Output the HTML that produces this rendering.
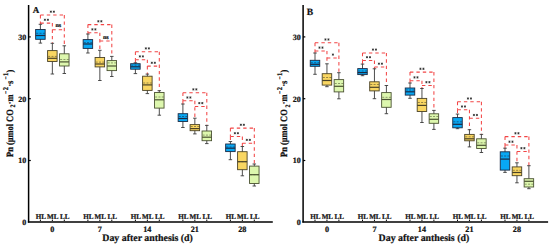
<!DOCTYPE html>
<html><head><meta charset="utf-8"><style>
html,body{margin:0;padding:0;background:#fff;width:550px;height:248px;overflow:hidden}
svg{display:block;text-rendering:geometricPrecision}
text{font-family:"Liberation Serif",serif;font-weight:bold;fill:#111;stroke:#111;stroke-width:0.22px}
</style></head><body>
<svg width="550" height="248" viewBox="0 0 550 248">
<rect width="550" height="248" fill="#fff"/>
<line x1="28.6" y1="5" x2="28.6" y2="222.6" stroke="#000" stroke-width="1.5"/>
<line x1="27.85" y1="222" x2="272.8" y2="222" stroke="#000" stroke-width="1.6"/>
<line x1="28.6" y1="36.9" x2="30.8" y2="36.9" stroke="#000" stroke-width="1.2"/>
<text x="26.3" y="39.7" font-size="8" text-anchor="end">30</text>
<line x1="28.6" y1="98.7" x2="30.8" y2="98.7" stroke="#000" stroke-width="1.2"/>
<text x="26.3" y="101.5" font-size="8" text-anchor="end">20</text>
<line x1="28.6" y1="160.5" x2="30.8" y2="160.5" stroke="#000" stroke-width="1.2"/>
<text x="26.3" y="163.3" font-size="8" text-anchor="end">10</text>
<text x="26.3" y="225.1" font-size="8" text-anchor="end">0</text>
<text x="32.8" y="12.9" font-size="9">A</text>
<text transform="translate(12.6,156.9) rotate(-90) scale(1,1.15)" stroke="none"><tspan x="0" y="0" font-size="8.4">Pn (μmol CO</tspan><tspan x="49.5" y="2.3" font-size="6">2</tspan><tspan x="52.6" y="0" font-size="8.4">·</tspan><tspan x="55.5" y="0" font-size="8.4">m</tspan><tspan x="63" y="-4.1" font-size="5.8">−</tspan><tspan x="66.7" y="-4.1" font-size="6.3">2</tspan><tspan x="70.5" y="0" font-size="8.4">·</tspan><tspan x="72.8" y="0" font-size="8.4">s</tspan><tspan x="77.4" y="-4.1" font-size="5.8">−</tspan><tspan x="80.9" y="-4.1" font-size="6.3">1</tspan><tspan x="84.5" y="0" font-size="8.4">)</tspan></text>
<text x="147.6" y="241.1" font-size="9.9" text-anchor="middle">Day after anthesis (d)</text>
<line x1="40.4" y1="221" x2="40.4" y2="219.6" stroke="#000" stroke-width="1"/>
<text x="40.8" y="218.9" font-size="7.1" text-anchor="middle">HL</text>
<line x1="52.35" y1="221" x2="52.35" y2="219.6" stroke="#000" stroke-width="1"/>
<text x="52.75" y="218.9" font-size="7.1" text-anchor="middle">ML</text>
<line x1="64.3" y1="221" x2="64.3" y2="219.6" stroke="#000" stroke-width="1"/>
<text x="64.7" y="218.9" font-size="7.1" text-anchor="middle">LL</text>
<text x="52.35" y="231.8" font-size="8.2" text-anchor="middle">0</text>
<path d="M40.4,15 H64.3" fill="none" stroke="#f24646" stroke-width="1.05" stroke-dasharray="3.4 3"/>
<path d="M40.4,15 V23.1" fill="none" stroke="#f24646" stroke-width="1.05" stroke-dasharray="3.4 3"/>
<path d="M64.3,15 V45.8" fill="none" stroke="#f24646" stroke-width="1.05" stroke-dasharray="3.4 3"/>
<path d="M40.4,23.1 H52.35" fill="none" stroke="#f24646" stroke-width="1.05" stroke-dasharray="3.4 3"/>
<path d="M40.4,23.1 V24.3" fill="none" stroke="#f24646" stroke-width="1.05" stroke-dasharray="3.4 3"/>
<path d="M52.35,23.1 V43.3" fill="none" stroke="#f24646" stroke-width="1.05" stroke-dasharray="3.4 3"/>
<path d="M52.35,29.7 H64.3" fill="none" stroke="#f24646" stroke-width="1.05" stroke-dasharray="3.4 3"/>
<path d="M50.85,10.6V12.8M49.85,11.15L51.85,12.25M49.85,12.25L51.85,11.15" stroke="#2a2a2a" stroke-width="0.75" fill="none"/>
<path d="M53.85,10.6V12.8M52.85,11.15L54.85,12.25M52.85,12.25L54.85,11.15" stroke="#2a2a2a" stroke-width="0.75" fill="none"/>
<path d="M44.88,18.7V20.9M43.88,19.25L45.88,20.35M43.88,20.35L45.88,19.25" stroke="#2a2a2a" stroke-width="0.75" fill="none"/>
<path d="M47.88,18.7V20.9M46.88,19.25L48.88,20.35M46.88,20.35L48.88,19.25" stroke="#2a2a2a" stroke-width="0.75" fill="none"/>
<text x="58.32" y="27.4" font-size="6" font-weight="bold" fill="#666" stroke="none" text-anchor="middle">ns</text>
<line x1="40.4" y1="24.3" x2="40.4" y2="43.1" stroke="#3a3a3a" stroke-width="0.9"/>
<line x1="38.65" y1="24.3" x2="42.15" y2="24.3" stroke="#3a3a3a" stroke-width="0.9"/>
<line x1="38.65" y1="43.1" x2="42.15" y2="43.1" stroke="#3a3a3a" stroke-width="0.9"/>
<rect x="35.65" y="29.5" width="9.5" height="9.8" fill="#08a8f4" stroke="#1a2a44" stroke-width="0.9"/>
<line x1="35.65" y1="33.3" x2="45.15" y2="33.3" stroke="#1a2a44" stroke-width="0.8" stroke-opacity="0.7" stroke-dasharray="2 1.3" stroke-dashoffset="-0.6"/>
<line x1="35.65" y1="35.5" x2="45.15" y2="35.5" stroke="#1a2a44" stroke-width="1.2"/>
<line x1="52.35" y1="43.3" x2="52.35" y2="74" stroke="#3a3a3a" stroke-width="0.9"/>
<line x1="50.6" y1="43.3" x2="54.1" y2="43.3" stroke="#3a3a3a" stroke-width="0.9"/>
<line x1="50.6" y1="74" x2="54.1" y2="74" stroke="#3a3a3a" stroke-width="0.9"/>
<rect x="47.6" y="50.6" width="9.5" height="10.9" fill="#f9d662" stroke="#4a4226" stroke-width="0.9"/>
<line x1="47.6" y1="56.4" x2="57.1" y2="56.4" stroke="#4a4226" stroke-width="0.8" stroke-opacity="0.7" stroke-dasharray="2 1.3" stroke-dashoffset="-0.6"/>
<line x1="47.6" y1="58.3" x2="57.1" y2="58.3" stroke="#4a4226" stroke-width="1.2"/>
<line x1="64.3" y1="45.8" x2="64.3" y2="73.5" stroke="#3a3a3a" stroke-width="0.9"/>
<line x1="62.55" y1="45.8" x2="66.05" y2="45.8" stroke="#3a3a3a" stroke-width="0.9"/>
<line x1="62.55" y1="73.5" x2="66.05" y2="73.5" stroke="#3a3a3a" stroke-width="0.9"/>
<rect x="59.55" y="53.8" width="9.5" height="12.2" fill="#ddf7ae" stroke="#4a5232" stroke-width="0.9"/>
<line x1="59.55" y1="59.5" x2="69.05" y2="59.5" stroke="#4a5232" stroke-width="0.8" stroke-opacity="0.7" stroke-dasharray="2 1.3" stroke-dashoffset="-0.6"/>
<line x1="59.55" y1="61.9" x2="69.05" y2="61.9" stroke="#4a5232" stroke-width="1.2"/>
<line x1="87.9" y1="221" x2="87.9" y2="219.6" stroke="#000" stroke-width="1"/>
<text x="88.3" y="218.9" font-size="7.1" text-anchor="middle">HL</text>
<line x1="99.85" y1="221" x2="99.85" y2="219.6" stroke="#000" stroke-width="1"/>
<text x="100.25" y="218.9" font-size="7.1" text-anchor="middle">ML</text>
<line x1="111.8" y1="221" x2="111.8" y2="219.6" stroke="#000" stroke-width="1"/>
<text x="112.2" y="218.9" font-size="7.1" text-anchor="middle">LL</text>
<text x="99.85" y="231.8" font-size="8.2" text-anchor="middle">7</text>
<path d="M87.9,24.6 H111.8" fill="none" stroke="#f24646" stroke-width="1.05" stroke-dasharray="3.4 3"/>
<path d="M87.9,24.6 V32.7" fill="none" stroke="#f24646" stroke-width="1.05" stroke-dasharray="3.4 3"/>
<path d="M111.8,24.6 V56.4" fill="none" stroke="#f24646" stroke-width="1.05" stroke-dasharray="3.4 3"/>
<path d="M87.9,32.7 H99.85" fill="none" stroke="#f24646" stroke-width="1.05" stroke-dasharray="3.4 3"/>
<path d="M87.9,32.7 V34" fill="none" stroke="#f24646" stroke-width="1.05" stroke-dasharray="3.4 3"/>
<path d="M99.85,32.7 V50.3" fill="none" stroke="#f24646" stroke-width="1.05" stroke-dasharray="3.4 3"/>
<path d="M99.85,41 H111.8" fill="none" stroke="#f24646" stroke-width="1.05" stroke-dasharray="3.4 3"/>
<path d="M98.35,20.2V22.4M97.35,20.75L99.35,21.85M97.35,21.85L99.35,20.75" stroke="#2a2a2a" stroke-width="0.75" fill="none"/>
<path d="M101.35,20.2V22.4M100.35,20.75L102.35,21.85M100.35,21.85L102.35,20.75" stroke="#2a2a2a" stroke-width="0.75" fill="none"/>
<path d="M92.38,28.3V30.5M91.38,28.85L93.38,29.95M91.38,29.95L93.38,28.85" stroke="#2a2a2a" stroke-width="0.75" fill="none"/>
<path d="M95.38,28.3V30.5M94.38,28.85L96.38,29.95M94.38,29.95L96.38,28.85" stroke="#2a2a2a" stroke-width="0.75" fill="none"/>
<text x="105.83" y="38.7" font-size="6" font-weight="bold" fill="#666" stroke="none" text-anchor="middle">ns</text>
<line x1="87.9" y1="34" x2="87.9" y2="53" stroke="#3a3a3a" stroke-width="0.9"/>
<line x1="86.15" y1="34" x2="89.65" y2="34" stroke="#3a3a3a" stroke-width="0.9"/>
<line x1="86.15" y1="53" x2="89.65" y2="53" stroke="#3a3a3a" stroke-width="0.9"/>
<rect x="83.15" y="39.6" width="9.5" height="8.8" fill="#08a8f4" stroke="#1a2a44" stroke-width="0.9"/>
<line x1="83.15" y1="42.6" x2="92.65" y2="42.6" stroke="#1a2a44" stroke-width="0.8" stroke-opacity="0.7" stroke-dasharray="2 1.3" stroke-dashoffset="-0.6"/>
<line x1="83.15" y1="44" x2="92.65" y2="44" stroke="#1a2a44" stroke-width="1.2"/>
<line x1="99.85" y1="50.3" x2="99.85" y2="80.5" stroke="#3a3a3a" stroke-width="0.9"/>
<line x1="98.1" y1="50.3" x2="101.6" y2="50.3" stroke="#3a3a3a" stroke-width="0.9"/>
<line x1="98.1" y1="80.5" x2="101.6" y2="80.5" stroke="#3a3a3a" stroke-width="0.9"/>
<rect x="95.1" y="57.5" width="9.5" height="9.4" fill="#f9d662" stroke="#4a4226" stroke-width="0.9"/>
<line x1="95.1" y1="62.1" x2="104.6" y2="62.1" stroke="#4a4226" stroke-width="0.8" stroke-opacity="0.7" stroke-dasharray="2 1.3" stroke-dashoffset="-0.6"/>
<line x1="95.1" y1="64" x2="104.6" y2="64" stroke="#4a4226" stroke-width="1.2"/>
<line x1="111.8" y1="56.4" x2="111.8" y2="76.5" stroke="#3a3a3a" stroke-width="0.9"/>
<line x1="110.05" y1="56.4" x2="113.55" y2="56.4" stroke="#3a3a3a" stroke-width="0.9"/>
<line x1="110.05" y1="76.5" x2="113.55" y2="76.5" stroke="#3a3a3a" stroke-width="0.9"/>
<rect x="107.05" y="60.6" width="9.5" height="10" fill="#ddf7ae" stroke="#4a5232" stroke-width="0.9"/>
<line x1="107.05" y1="62.9" x2="116.55" y2="62.9" stroke="#4a5232" stroke-width="0.8" stroke-opacity="0.7" stroke-dasharray="2 1.3" stroke-dashoffset="-0.6"/>
<line x1="107.05" y1="66" x2="116.55" y2="66" stroke="#4a5232" stroke-width="1.2"/>
<line x1="135.4" y1="221" x2="135.4" y2="219.6" stroke="#000" stroke-width="1"/>
<text x="135.8" y="218.9" font-size="7.1" text-anchor="middle">HL</text>
<line x1="147.35" y1="221" x2="147.35" y2="219.6" stroke="#000" stroke-width="1"/>
<text x="147.75" y="218.9" font-size="7.1" text-anchor="middle">ML</text>
<line x1="159.3" y1="221" x2="159.3" y2="219.6" stroke="#000" stroke-width="1"/>
<text x="159.7" y="218.9" font-size="7.1" text-anchor="middle">LL</text>
<text x="147.35" y="231.8" font-size="8.2" text-anchor="middle">14</text>
<path d="M135.4,51.7 H159.3" fill="none" stroke="#f24646" stroke-width="1.05" stroke-dasharray="3.4 3"/>
<path d="M135.4,51.7 V59.7" fill="none" stroke="#f24646" stroke-width="1.05" stroke-dasharray="3.4 3"/>
<path d="M159.3,51.7 V90.7" fill="none" stroke="#f24646" stroke-width="1.05" stroke-dasharray="3.4 3"/>
<path d="M135.4,59.7 H147.35" fill="none" stroke="#f24646" stroke-width="1.05" stroke-dasharray="3.4 3"/>
<path d="M135.4,59.7 V62.8" fill="none" stroke="#f24646" stroke-width="1.05" stroke-dasharray="3.4 3"/>
<path d="M147.35,59.7 V74.1" fill="none" stroke="#f24646" stroke-width="1.05" stroke-dasharray="3.4 3"/>
<path d="M147.35,66.1 H159.3" fill="none" stroke="#f24646" stroke-width="1.05" stroke-dasharray="3.4 3"/>
<path d="M145.85,47.3V49.5M144.85,47.85L146.85,48.95M144.85,48.95L146.85,47.85" stroke="#2a2a2a" stroke-width="0.75" fill="none"/>
<path d="M148.85,47.3V49.5M147.85,47.85L149.85,48.95M147.85,48.95L149.85,47.85" stroke="#2a2a2a" stroke-width="0.75" fill="none"/>
<path d="M139.88,55.3V57.5M138.88,55.85L140.88,56.95M138.88,56.95L140.88,55.85" stroke="#2a2a2a" stroke-width="0.75" fill="none"/>
<path d="M142.88,55.3V57.5M141.88,55.85L143.88,56.95M141.88,56.95L143.88,55.85" stroke="#2a2a2a" stroke-width="0.75" fill="none"/>
<path d="M151.82,61.7V63.9M150.82,62.25L152.82,63.35M150.82,63.35L152.82,62.25" stroke="#2a2a2a" stroke-width="0.75" fill="none"/>
<path d="M154.82,61.7V63.9M153.82,62.25L155.82,63.35M153.82,63.35L155.82,62.25" stroke="#2a2a2a" stroke-width="0.75" fill="none"/>
<line x1="135.4" y1="62.8" x2="135.4" y2="73.6" stroke="#3a3a3a" stroke-width="0.9"/>
<line x1="133.65" y1="62.8" x2="137.15" y2="62.8" stroke="#3a3a3a" stroke-width="0.9"/>
<line x1="133.65" y1="73.6" x2="137.15" y2="73.6" stroke="#3a3a3a" stroke-width="0.9"/>
<rect x="130.65" y="63.7" width="9.5" height="5.5" fill="#08a8f4" stroke="#1a2a44" stroke-width="0.9"/>
<line x1="130.65" y1="65.2" x2="140.15" y2="65.2" stroke="#1a2a44" stroke-width="0.8" stroke-opacity="0.7" stroke-dasharray="2 1.3" stroke-dashoffset="-0.6"/>
<line x1="130.65" y1="66.8" x2="140.15" y2="66.8" stroke="#1a2a44" stroke-width="1.2"/>
<line x1="147.35" y1="74.1" x2="147.35" y2="93.6" stroke="#3a3a3a" stroke-width="0.9"/>
<line x1="145.6" y1="74.1" x2="149.1" y2="74.1" stroke="#3a3a3a" stroke-width="0.9"/>
<line x1="145.6" y1="93.6" x2="149.1" y2="93.6" stroke="#3a3a3a" stroke-width="0.9"/>
<rect x="142.6" y="76.2" width="9.5" height="14.2" fill="#f9d662" stroke="#4a4226" stroke-width="0.9"/>
<line x1="142.6" y1="83" x2="152.1" y2="83" stroke="#4a4226" stroke-width="0.8" stroke-opacity="0.7" stroke-dasharray="2 1.3" stroke-dashoffset="-0.6"/>
<line x1="142.6" y1="84.9" x2="152.1" y2="84.9" stroke="#4a4226" stroke-width="1.2"/>
<line x1="159.3" y1="90.7" x2="159.3" y2="115.2" stroke="#3a3a3a" stroke-width="0.9"/>
<line x1="157.55" y1="90.7" x2="161.05" y2="90.7" stroke="#3a3a3a" stroke-width="0.9"/>
<line x1="157.55" y1="115.2" x2="161.05" y2="115.2" stroke="#3a3a3a" stroke-width="0.9"/>
<rect x="154.55" y="92.5" width="9.5" height="15.6" fill="#ddf7ae" stroke="#4a5232" stroke-width="0.9"/>
<line x1="154.55" y1="97" x2="164.05" y2="97" stroke="#4a5232" stroke-width="0.8" stroke-opacity="0.7" stroke-dasharray="2 1.3" stroke-dashoffset="-0.6"/>
<line x1="154.55" y1="99.8" x2="164.05" y2="99.8" stroke="#4a5232" stroke-width="1.2"/>
<line x1="182.9" y1="221" x2="182.9" y2="219.6" stroke="#000" stroke-width="1"/>
<text x="183.3" y="218.9" font-size="7.1" text-anchor="middle">HL</text>
<line x1="194.85" y1="221" x2="194.85" y2="219.6" stroke="#000" stroke-width="1"/>
<text x="195.25" y="218.9" font-size="7.1" text-anchor="middle">ML</text>
<line x1="206.8" y1="221" x2="206.8" y2="219.6" stroke="#000" stroke-width="1"/>
<text x="207.2" y="218.9" font-size="7.1" text-anchor="middle">LL</text>
<text x="194.85" y="231.8" font-size="8.2" text-anchor="middle">21</text>
<path d="M182.9,92.7 H206.8" fill="none" stroke="#f24646" stroke-width="1.05" stroke-dasharray="3.4 3"/>
<path d="M182.9,92.7 V100.8" fill="none" stroke="#f24646" stroke-width="1.05" stroke-dasharray="3.4 3"/>
<path d="M206.8,92.7 V125.4" fill="none" stroke="#f24646" stroke-width="1.05" stroke-dasharray="3.4 3"/>
<path d="M182.9,100.8 H194.85" fill="none" stroke="#f24646" stroke-width="1.05" stroke-dasharray="3.4 3"/>
<path d="M182.9,100.8 V104" fill="none" stroke="#f24646" stroke-width="1.05" stroke-dasharray="3.4 3"/>
<path d="M194.85,100.8 V118.2" fill="none" stroke="#f24646" stroke-width="1.05" stroke-dasharray="3.4 3"/>
<path d="M194.85,106.4 H206.8" fill="none" stroke="#f24646" stroke-width="1.05" stroke-dasharray="3.4 3"/>
<path d="M193.35,88.3V90.5M192.35,88.85L194.35,89.95M192.35,89.95L194.35,88.85" stroke="#2a2a2a" stroke-width="0.75" fill="none"/>
<path d="M196.35,88.3V90.5M195.35,88.85L197.35,89.95M195.35,89.95L197.35,88.85" stroke="#2a2a2a" stroke-width="0.75" fill="none"/>
<path d="M187.38,96.4V98.6M186.38,96.95L188.38,98.05M186.38,98.05L188.38,96.95" stroke="#2a2a2a" stroke-width="0.75" fill="none"/>
<path d="M190.38,96.4V98.6M189.38,96.95L191.38,98.05M189.38,98.05L191.38,96.95" stroke="#2a2a2a" stroke-width="0.75" fill="none"/>
<path d="M199.32,102V104.2M198.32,102.55L200.32,103.65M198.32,103.65L200.32,102.55" stroke="#2a2a2a" stroke-width="0.75" fill="none"/>
<path d="M202.32,102V104.2M201.32,102.55L203.32,103.65M201.32,103.65L203.32,102.55" stroke="#2a2a2a" stroke-width="0.75" fill="none"/>
<line x1="182.9" y1="104" x2="182.9" y2="127.5" stroke="#3a3a3a" stroke-width="0.9"/>
<line x1="181.15" y1="104" x2="184.65" y2="104" stroke="#3a3a3a" stroke-width="0.9"/>
<line x1="181.15" y1="127.5" x2="184.65" y2="127.5" stroke="#3a3a3a" stroke-width="0.9"/>
<rect x="178.15" y="113.7" width="9.5" height="7.8" fill="#08a8f4" stroke="#1a2a44" stroke-width="0.9"/>
<line x1="178.15" y1="116.5" x2="187.65" y2="116.5" stroke="#1a2a44" stroke-width="0.8" stroke-opacity="0.7" stroke-dasharray="2 1.3" stroke-dashoffset="-0.6"/>
<line x1="178.15" y1="118.5" x2="187.65" y2="118.5" stroke="#1a2a44" stroke-width="1.2"/>
<line x1="194.85" y1="118.2" x2="194.85" y2="133.9" stroke="#3a3a3a" stroke-width="0.9"/>
<line x1="193.1" y1="118.2" x2="196.6" y2="118.2" stroke="#3a3a3a" stroke-width="0.9"/>
<line x1="193.1" y1="133.9" x2="196.6" y2="133.9" stroke="#3a3a3a" stroke-width="0.9"/>
<rect x="190.1" y="124.6" width="9.5" height="6.1" fill="#f9d662" stroke="#4a4226" stroke-width="0.9"/>
<line x1="190.1" y1="126.5" x2="199.6" y2="126.5" stroke="#4a4226" stroke-width="0.8" stroke-opacity="0.7" stroke-dasharray="2 1.3" stroke-dashoffset="-0.6"/>
<line x1="190.1" y1="128.6" x2="199.6" y2="128.6" stroke="#4a4226" stroke-width="1.2"/>
<line x1="206.8" y1="125.4" x2="206.8" y2="143.6" stroke="#3a3a3a" stroke-width="0.9"/>
<line x1="205.05" y1="125.4" x2="208.55" y2="125.4" stroke="#3a3a3a" stroke-width="0.9"/>
<line x1="205.05" y1="143.6" x2="208.55" y2="143.6" stroke="#3a3a3a" stroke-width="0.9"/>
<rect x="202.05" y="131" width="9.5" height="9.7" fill="#ddf7ae" stroke="#4a5232" stroke-width="0.9"/>
<line x1="202.05" y1="135.1" x2="211.55" y2="135.1" stroke="#4a5232" stroke-width="0.8" stroke-opacity="0.7" stroke-dasharray="2 1.3" stroke-dashoffset="-0.6"/>
<line x1="202.05" y1="137.2" x2="211.55" y2="137.2" stroke="#4a5232" stroke-width="1.2"/>
<line x1="230.4" y1="221" x2="230.4" y2="219.6" stroke="#000" stroke-width="1"/>
<text x="230.8" y="218.9" font-size="7.1" text-anchor="middle">HL</text>
<line x1="242.35" y1="221" x2="242.35" y2="219.6" stroke="#000" stroke-width="1"/>
<text x="242.75" y="218.9" font-size="7.1" text-anchor="middle">ML</text>
<line x1="254.3" y1="221" x2="254.3" y2="219.6" stroke="#000" stroke-width="1"/>
<text x="254.7" y="218.9" font-size="7.1" text-anchor="middle">LL</text>
<text x="242.35" y="231.8" font-size="8.2" text-anchor="middle">28</text>
<path d="M230.4,128.1 H254.3" fill="none" stroke="#f24646" stroke-width="1.05" stroke-dasharray="3.4 3"/>
<path d="M230.4,128.1 V136.5" fill="none" stroke="#f24646" stroke-width="1.05" stroke-dasharray="3.4 3"/>
<path d="M254.3,128.1 V164" fill="none" stroke="#f24646" stroke-width="1.05" stroke-dasharray="3.4 3"/>
<path d="M230.4,136.5 H242.35" fill="none" stroke="#f24646" stroke-width="1.05" stroke-dasharray="3.4 3"/>
<path d="M230.4,136.5 V141.5" fill="none" stroke="#f24646" stroke-width="1.05" stroke-dasharray="3.4 3"/>
<path d="M242.35,136.5 V146.5" fill="none" stroke="#f24646" stroke-width="1.05" stroke-dasharray="3.4 3"/>
<path d="M242.35,143.2 H254.3" fill="none" stroke="#f24646" stroke-width="1.05" stroke-dasharray="3.4 3"/>
<path d="M240.85,123.7V125.9M239.85,124.25L241.85,125.35M239.85,125.35L241.85,124.25" stroke="#2a2a2a" stroke-width="0.75" fill="none"/>
<path d="M243.85,123.7V125.9M242.85,124.25L244.85,125.35M242.85,125.35L244.85,124.25" stroke="#2a2a2a" stroke-width="0.75" fill="none"/>
<path d="M234.88,132.1V134.3M233.88,132.65L235.88,133.75M233.88,133.75L235.88,132.65" stroke="#2a2a2a" stroke-width="0.75" fill="none"/>
<path d="M237.88,132.1V134.3M236.88,132.65L238.88,133.75M236.88,133.75L238.88,132.65" stroke="#2a2a2a" stroke-width="0.75" fill="none"/>
<path d="M246.82,138.8V141M245.82,139.35L247.82,140.45M245.82,140.45L247.82,139.35" stroke="#2a2a2a" stroke-width="0.75" fill="none"/>
<path d="M249.82,138.8V141M248.82,139.35L250.82,140.45M248.82,140.45L250.82,139.35" stroke="#2a2a2a" stroke-width="0.75" fill="none"/>
<line x1="230.4" y1="141.5" x2="230.4" y2="159.7" stroke="#3a3a3a" stroke-width="0.9"/>
<line x1="228.65" y1="141.5" x2="232.15" y2="141.5" stroke="#3a3a3a" stroke-width="0.9"/>
<line x1="228.65" y1="159.7" x2="232.15" y2="159.7" stroke="#3a3a3a" stroke-width="0.9"/>
<rect x="225.65" y="144" width="9.5" height="7.6" fill="#08a8f4" stroke="#1a2a44" stroke-width="0.9"/>
<line x1="225.65" y1="147" x2="235.15" y2="147" stroke="#1a2a44" stroke-width="0.8" stroke-opacity="0.7" stroke-dasharray="2 1.3" stroke-dashoffset="-0.6"/>
<line x1="225.65" y1="148.2" x2="235.15" y2="148.2" stroke="#1a2a44" stroke-width="1.2"/>
<line x1="242.35" y1="146.5" x2="242.35" y2="175.8" stroke="#3a3a3a" stroke-width="0.9"/>
<line x1="240.6" y1="146.5" x2="244.1" y2="146.5" stroke="#3a3a3a" stroke-width="0.9"/>
<line x1="240.6" y1="175.8" x2="244.1" y2="175.8" stroke="#3a3a3a" stroke-width="0.9"/>
<rect x="237.6" y="151.7" width="9.5" height="18" fill="#f9d662" stroke="#4a4226" stroke-width="0.9"/>
<line x1="237.6" y1="161.7" x2="247.1" y2="161.7" stroke="#4a4226" stroke-width="0.8" stroke-opacity="0.7" stroke-dasharray="2 1.3" stroke-dashoffset="-0.6"/>
<line x1="237.6" y1="161.7" x2="247.1" y2="161.7" stroke="#4a4226" stroke-width="1.2"/>
<line x1="254.3" y1="164" x2="254.3" y2="186" stroke="#3a3a3a" stroke-width="0.9"/>
<line x1="252.55" y1="164" x2="256.05" y2="164" stroke="#3a3a3a" stroke-width="0.9"/>
<line x1="252.55" y1="186" x2="256.05" y2="186" stroke="#3a3a3a" stroke-width="0.9"/>
<rect x="249.55" y="166.1" width="9.5" height="17.4" fill="#ddf7ae" stroke="#4a5232" stroke-width="0.9"/>
<line x1="249.55" y1="174.7" x2="259.05" y2="174.7" stroke="#4a5232" stroke-width="0.8" stroke-opacity="0.7" stroke-dasharray="2 1.3" stroke-dashoffset="-0.6"/>
<line x1="249.55" y1="174.7" x2="259.05" y2="174.7" stroke="#4a5232" stroke-width="1.2"/>
<line x1="303.1" y1="5" x2="303.1" y2="222.6" stroke="#000" stroke-width="1.5"/>
<line x1="302.35" y1="222" x2="548.1" y2="222" stroke="#000" stroke-width="1.6"/>
<line x1="303.1" y1="36.9" x2="305.3" y2="36.9" stroke="#000" stroke-width="1.2"/>
<text x="300.8" y="39.7" font-size="8" text-anchor="end">30</text>
<line x1="303.1" y1="98.7" x2="305.3" y2="98.7" stroke="#000" stroke-width="1.2"/>
<text x="300.8" y="101.5" font-size="8" text-anchor="end">20</text>
<line x1="303.1" y1="160.5" x2="305.3" y2="160.5" stroke="#000" stroke-width="1.2"/>
<text x="300.8" y="163.3" font-size="8" text-anchor="end">10</text>
<text x="300.8" y="225.1" font-size="8" text-anchor="end">0</text>
<text x="306.8" y="14.7" font-size="9.6">B</text>
<text transform="translate(287.1,156.9) rotate(-90) scale(1,1.15)" stroke="none"><tspan x="0" y="0" font-size="8.4">Pn (μmol CO</tspan><tspan x="49.5" y="2.3" font-size="6">2</tspan><tspan x="52.6" y="0" font-size="8.4">·</tspan><tspan x="55.5" y="0" font-size="8.4">m</tspan><tspan x="63" y="-4.1" font-size="5.8">−</tspan><tspan x="66.7" y="-4.1" font-size="6.3">2</tspan><tspan x="70.5" y="0" font-size="8.4">·</tspan><tspan x="72.8" y="0" font-size="8.4">s</tspan><tspan x="77.4" y="-4.1" font-size="5.8">−</tspan><tspan x="80.9" y="-4.1" font-size="6.3">1</tspan><tspan x="84.5" y="0" font-size="8.4">)</tspan></text>
<text x="423.91" y="241.1" font-size="9.9" text-anchor="middle">Day after anthesis (d)</text>
<line x1="315" y1="221" x2="315" y2="219.6" stroke="#000" stroke-width="1"/>
<text x="315.4" y="218.9" font-size="7.1" text-anchor="middle">HL</text>
<line x1="326.95" y1="221" x2="326.95" y2="219.6" stroke="#000" stroke-width="1"/>
<text x="327.35" y="218.9" font-size="7.1" text-anchor="middle">ML</text>
<line x1="338.9" y1="221" x2="338.9" y2="219.6" stroke="#000" stroke-width="1"/>
<text x="339.3" y="218.9" font-size="7.1" text-anchor="middle">LL</text>
<text x="326.95" y="231.8" font-size="8.2" text-anchor="middle">0</text>
<path d="M315,42.8 H338.9" fill="none" stroke="#f24646" stroke-width="1.05" stroke-dasharray="3.4 3"/>
<path d="M315,42.8 V50.9" fill="none" stroke="#f24646" stroke-width="1.05" stroke-dasharray="3.4 3"/>
<path d="M338.9,42.8 V72.7" fill="none" stroke="#f24646" stroke-width="1.05" stroke-dasharray="3.4 3"/>
<path d="M315,50.9 H326.95" fill="none" stroke="#f24646" stroke-width="1.05" stroke-dasharray="3.4 3"/>
<path d="M315,50.9 V53" fill="none" stroke="#f24646" stroke-width="1.05" stroke-dasharray="3.4 3"/>
<path d="M326.95,50.9 V63.8" fill="none" stroke="#f24646" stroke-width="1.05" stroke-dasharray="3.4 3"/>
<path d="M326.95,57.9 H338.9" fill="none" stroke="#f24646" stroke-width="1.05" stroke-dasharray="3.4 3"/>
<path d="M325.45,38.4V40.6M324.45,38.95L326.45,40.05M324.45,40.05L326.45,38.95" stroke="#2a2a2a" stroke-width="0.75" fill="none"/>
<path d="M328.45,38.4V40.6M327.45,38.95L329.45,40.05M327.45,40.05L329.45,38.95" stroke="#2a2a2a" stroke-width="0.75" fill="none"/>
<path d="M319.48,46.5V48.7M318.48,47.05L320.48,48.15M318.48,48.15L320.48,47.05" stroke="#2a2a2a" stroke-width="0.75" fill="none"/>
<path d="M322.48,46.5V48.7M321.48,47.05L323.48,48.15M321.48,48.15L323.48,47.05" stroke="#2a2a2a" stroke-width="0.75" fill="none"/>
<path d="M332.92,53.5V55.7M331.92,54.05L333.92,55.15M331.92,55.15L333.92,54.05" stroke="#2a2a2a" stroke-width="0.75" fill="none"/>
<line x1="315" y1="53" x2="315" y2="74.3" stroke="#3a3a3a" stroke-width="0.9"/>
<line x1="313.25" y1="53" x2="316.75" y2="53" stroke="#3a3a3a" stroke-width="0.9"/>
<line x1="313.25" y1="74.3" x2="316.75" y2="74.3" stroke="#3a3a3a" stroke-width="0.9"/>
<rect x="310.25" y="60.3" width="9.5" height="6" fill="#08a8f4" stroke="#1a2a44" stroke-width="0.9"/>
<line x1="310.25" y1="62.7" x2="319.75" y2="62.7" stroke="#1a2a44" stroke-width="0.8" stroke-opacity="0.7" stroke-dasharray="2 1.3" stroke-dashoffset="-0.6"/>
<line x1="310.25" y1="64.3" x2="319.75" y2="64.3" stroke="#1a2a44" stroke-width="1.2"/>
<line x1="326.95" y1="63.8" x2="326.95" y2="86.7" stroke="#3a3a3a" stroke-width="0.9"/>
<line x1="325.2" y1="63.8" x2="328.7" y2="63.8" stroke="#3a3a3a" stroke-width="0.9"/>
<line x1="325.2" y1="86.7" x2="328.7" y2="86.7" stroke="#3a3a3a" stroke-width="0.9"/>
<rect x="322.2" y="73.7" width="9.5" height="11.4" fill="#f9d662" stroke="#4a4226" stroke-width="0.9"/>
<line x1="322.2" y1="77.5" x2="331.7" y2="77.5" stroke="#4a4226" stroke-width="0.8" stroke-opacity="0.7" stroke-dasharray="2 1.3" stroke-dashoffset="-0.6"/>
<line x1="322.2" y1="80.5" x2="331.7" y2="80.5" stroke="#4a4226" stroke-width="1.2"/>
<line x1="338.9" y1="72.7" x2="338.9" y2="98.8" stroke="#3a3a3a" stroke-width="0.9"/>
<line x1="337.15" y1="72.7" x2="340.65" y2="72.7" stroke="#3a3a3a" stroke-width="0.9"/>
<line x1="337.15" y1="98.8" x2="340.65" y2="98.8" stroke="#3a3a3a" stroke-width="0.9"/>
<rect x="334.15" y="79.6" width="9.5" height="12.3" fill="#ddf7ae" stroke="#4a5232" stroke-width="0.9"/>
<line x1="334.15" y1="83.5" x2="343.65" y2="83.5" stroke="#4a5232" stroke-width="0.8" stroke-opacity="0.7" stroke-dasharray="2 1.3" stroke-dashoffset="-0.6"/>
<line x1="334.15" y1="86.3" x2="343.65" y2="86.3" stroke="#4a5232" stroke-width="1.2"/>
<line x1="362.5" y1="221" x2="362.5" y2="219.6" stroke="#000" stroke-width="1"/>
<text x="362.9" y="218.9" font-size="7.1" text-anchor="middle">HL</text>
<line x1="374.45" y1="221" x2="374.45" y2="219.6" stroke="#000" stroke-width="1"/>
<text x="374.85" y="218.9" font-size="7.1" text-anchor="middle">ML</text>
<line x1="386.4" y1="221" x2="386.4" y2="219.6" stroke="#000" stroke-width="1"/>
<text x="386.8" y="218.9" font-size="7.1" text-anchor="middle">LL</text>
<text x="374.45" y="231.8" font-size="8.2" text-anchor="middle">7</text>
<path d="M362.5,52.9 H386.4" fill="none" stroke="#f24646" stroke-width="1.05" stroke-dasharray="3.4 3"/>
<path d="M362.5,52.9 V60.5" fill="none" stroke="#f24646" stroke-width="1.05" stroke-dasharray="3.4 3"/>
<path d="M386.4,52.9 V85.5" fill="none" stroke="#f24646" stroke-width="1.05" stroke-dasharray="3.4 3"/>
<path d="M362.5,60.5 H374.45" fill="none" stroke="#f24646" stroke-width="1.05" stroke-dasharray="3.4 3"/>
<path d="M362.5,60.5 V64.1" fill="none" stroke="#f24646" stroke-width="1.05" stroke-dasharray="3.4 3"/>
<path d="M374.45,60.5 V68.8" fill="none" stroke="#f24646" stroke-width="1.05" stroke-dasharray="3.4 3"/>
<path d="M374.45,67 H386.4" fill="none" stroke="#f24646" stroke-width="1.05" stroke-dasharray="3.4 3"/>
<path d="M372.95,48.5V50.7M371.95,49.05L373.95,50.15M371.95,50.15L373.95,49.05" stroke="#2a2a2a" stroke-width="0.75" fill="none"/>
<path d="M375.95,48.5V50.7M374.95,49.05L376.95,50.15M374.95,50.15L376.95,49.05" stroke="#2a2a2a" stroke-width="0.75" fill="none"/>
<path d="M366.98,56.1V58.3M365.98,56.65L367.98,57.75M365.98,57.75L367.98,56.65" stroke="#2a2a2a" stroke-width="0.75" fill="none"/>
<path d="M369.98,56.1V58.3M368.98,56.65L370.98,57.75M368.98,57.75L370.98,56.65" stroke="#2a2a2a" stroke-width="0.75" fill="none"/>
<path d="M378.92,62.6V64.8M377.92,63.15L379.92,64.25M377.92,64.25L379.92,63.15" stroke="#2a2a2a" stroke-width="0.75" fill="none"/>
<path d="M381.92,62.6V64.8M380.92,63.15L382.92,64.25M380.92,64.25L382.92,63.15" stroke="#2a2a2a" stroke-width="0.75" fill="none"/>
<line x1="362.5" y1="64.1" x2="362.5" y2="75.7" stroke="#3a3a3a" stroke-width="0.9"/>
<line x1="360.75" y1="64.1" x2="364.25" y2="64.1" stroke="#3a3a3a" stroke-width="0.9"/>
<line x1="360.75" y1="75.7" x2="364.25" y2="75.7" stroke="#3a3a3a" stroke-width="0.9"/>
<rect x="357.75" y="68.6" width="9.5" height="6" fill="#08a8f4" stroke="#1a2a44" stroke-width="0.9"/>
<line x1="357.75" y1="71" x2="367.25" y2="71" stroke="#1a2a44" stroke-width="0.8" stroke-opacity="0.7" stroke-dasharray="2 1.3" stroke-dashoffset="-0.6"/>
<line x1="357.75" y1="72.6" x2="367.25" y2="72.6" stroke="#1a2a44" stroke-width="1.2"/>
<line x1="374.45" y1="68.8" x2="374.45" y2="98.7" stroke="#3a3a3a" stroke-width="0.9"/>
<line x1="372.7" y1="68.8" x2="376.2" y2="68.8" stroke="#3a3a3a" stroke-width="0.9"/>
<line x1="372.7" y1="98.7" x2="376.2" y2="98.7" stroke="#3a3a3a" stroke-width="0.9"/>
<rect x="369.7" y="81.8" width="9.5" height="9.1" fill="#f9d662" stroke="#4a4226" stroke-width="0.9"/>
<line x1="369.7" y1="84.5" x2="379.2" y2="84.5" stroke="#4a4226" stroke-width="0.8" stroke-opacity="0.7" stroke-dasharray="2 1.3" stroke-dashoffset="-0.6"/>
<line x1="369.7" y1="87.3" x2="379.2" y2="87.3" stroke="#4a4226" stroke-width="1.2"/>
<line x1="386.4" y1="85.5" x2="386.4" y2="113.7" stroke="#3a3a3a" stroke-width="0.9"/>
<line x1="384.65" y1="85.5" x2="388.15" y2="85.5" stroke="#3a3a3a" stroke-width="0.9"/>
<line x1="384.65" y1="113.7" x2="388.15" y2="113.7" stroke="#3a3a3a" stroke-width="0.9"/>
<rect x="381.65" y="92.6" width="9.5" height="14.7" fill="#ddf7ae" stroke="#4a5232" stroke-width="0.9"/>
<line x1="381.65" y1="97.3" x2="391.15" y2="97.3" stroke="#4a5232" stroke-width="0.8" stroke-opacity="0.7" stroke-dasharray="2 1.3" stroke-dashoffset="-0.6"/>
<line x1="381.65" y1="99.5" x2="391.15" y2="99.5" stroke="#4a5232" stroke-width="1.2"/>
<line x1="410" y1="221" x2="410" y2="219.6" stroke="#000" stroke-width="1"/>
<text x="410.4" y="218.9" font-size="7.1" text-anchor="middle">HL</text>
<line x1="421.95" y1="221" x2="421.95" y2="219.6" stroke="#000" stroke-width="1"/>
<text x="422.35" y="218.9" font-size="7.1" text-anchor="middle">ML</text>
<line x1="433.9" y1="221" x2="433.9" y2="219.6" stroke="#000" stroke-width="1"/>
<text x="434.3" y="218.9" font-size="7.1" text-anchor="middle">LL</text>
<text x="421.95" y="231.8" font-size="8.2" text-anchor="middle">14</text>
<path d="M410,72.1 H433.9" fill="none" stroke="#f24646" stroke-width="1.05" stroke-dasharray="3.4 3"/>
<path d="M410,72.1 V80.7" fill="none" stroke="#f24646" stroke-width="1.05" stroke-dasharray="3.4 3"/>
<path d="M433.9,72.1 V110.4" fill="none" stroke="#f24646" stroke-width="1.05" stroke-dasharray="3.4 3"/>
<path d="M410,80.7 H421.95" fill="none" stroke="#f24646" stroke-width="1.05" stroke-dasharray="3.4 3"/>
<path d="M410,80.7 V83" fill="none" stroke="#f24646" stroke-width="1.05" stroke-dasharray="3.4 3"/>
<path d="M421.95,80.7 V88.5" fill="none" stroke="#f24646" stroke-width="1.05" stroke-dasharray="3.4 3"/>
<path d="M421.95,85.5 H433.9" fill="none" stroke="#f24646" stroke-width="1.05" stroke-dasharray="3.4 3"/>
<path d="M420.45,67.7V69.9M419.45,68.25L421.45,69.35M419.45,69.35L421.45,68.25" stroke="#2a2a2a" stroke-width="0.75" fill="none"/>
<path d="M423.45,67.7V69.9M422.45,68.25L424.45,69.35M422.45,69.35L424.45,68.25" stroke="#2a2a2a" stroke-width="0.75" fill="none"/>
<path d="M414.48,76.3V78.5M413.48,76.85L415.48,77.95M413.48,77.95L415.48,76.85" stroke="#2a2a2a" stroke-width="0.75" fill="none"/>
<path d="M417.48,76.3V78.5M416.48,76.85L418.48,77.95M416.48,77.95L418.48,76.85" stroke="#2a2a2a" stroke-width="0.75" fill="none"/>
<path d="M426.42,81.1V83.3M425.42,81.65L427.42,82.75M425.42,82.75L427.42,81.65" stroke="#2a2a2a" stroke-width="0.75" fill="none"/>
<path d="M429.42,81.1V83.3M428.42,81.65L430.42,82.75M428.42,82.75L430.42,81.65" stroke="#2a2a2a" stroke-width="0.75" fill="none"/>
<line x1="410" y1="83" x2="410" y2="98.3" stroke="#3a3a3a" stroke-width="0.9"/>
<line x1="408.25" y1="83" x2="411.75" y2="83" stroke="#3a3a3a" stroke-width="0.9"/>
<line x1="408.25" y1="98.3" x2="411.75" y2="98.3" stroke="#3a3a3a" stroke-width="0.9"/>
<rect x="405.25" y="88" width="9.5" height="7.1" fill="#08a8f4" stroke="#1a2a44" stroke-width="0.9"/>
<line x1="405.25" y1="90" x2="414.75" y2="90" stroke="#1a2a44" stroke-width="0.8" stroke-opacity="0.7" stroke-dasharray="2 1.3" stroke-dashoffset="-0.6"/>
<line x1="405.25" y1="91.8" x2="414.75" y2="91.8" stroke="#1a2a44" stroke-width="1.2"/>
<line x1="421.95" y1="88.5" x2="421.95" y2="122.5" stroke="#3a3a3a" stroke-width="0.9"/>
<line x1="420.2" y1="88.5" x2="423.7" y2="88.5" stroke="#3a3a3a" stroke-width="0.9"/>
<line x1="420.2" y1="122.5" x2="423.7" y2="122.5" stroke="#3a3a3a" stroke-width="0.9"/>
<rect x="417.2" y="98.4" width="9.5" height="13.1" fill="#f9d662" stroke="#4a4226" stroke-width="0.9"/>
<line x1="417.2" y1="102.5" x2="426.7" y2="102.5" stroke="#4a4226" stroke-width="0.8" stroke-opacity="0.7" stroke-dasharray="2 1.3" stroke-dashoffset="-0.6"/>
<line x1="417.2" y1="105.4" x2="426.7" y2="105.4" stroke="#4a4226" stroke-width="1.2"/>
<line x1="433.9" y1="110.4" x2="433.9" y2="129.4" stroke="#3a3a3a" stroke-width="0.9"/>
<line x1="432.15" y1="110.4" x2="435.65" y2="110.4" stroke="#3a3a3a" stroke-width="0.9"/>
<line x1="432.15" y1="129.4" x2="435.65" y2="129.4" stroke="#3a3a3a" stroke-width="0.9"/>
<rect x="429.15" y="113.8" width="9.5" height="9.5" fill="#ddf7ae" stroke="#4a5232" stroke-width="0.9"/>
<line x1="429.15" y1="116.5" x2="438.65" y2="116.5" stroke="#4a5232" stroke-width="0.8" stroke-opacity="0.7" stroke-dasharray="2 1.3" stroke-dashoffset="-0.6"/>
<line x1="429.15" y1="119.3" x2="438.65" y2="119.3" stroke="#4a5232" stroke-width="1.2"/>
<line x1="457.5" y1="221" x2="457.5" y2="219.6" stroke="#000" stroke-width="1"/>
<text x="457.9" y="218.9" font-size="7.1" text-anchor="middle">HL</text>
<line x1="469.45" y1="221" x2="469.45" y2="219.6" stroke="#000" stroke-width="1"/>
<text x="469.85" y="218.9" font-size="7.1" text-anchor="middle">ML</text>
<line x1="481.4" y1="221" x2="481.4" y2="219.6" stroke="#000" stroke-width="1"/>
<text x="481.8" y="218.9" font-size="7.1" text-anchor="middle">LL</text>
<text x="469.45" y="231.8" font-size="8.2" text-anchor="middle">21</text>
<path d="M457.5,101.8 H481.4" fill="none" stroke="#f24646" stroke-width="1.05" stroke-dasharray="3.4 3"/>
<path d="M457.5,101.8 V109.8" fill="none" stroke="#f24646" stroke-width="1.05" stroke-dasharray="3.4 3"/>
<path d="M481.4,101.8 V134.4" fill="none" stroke="#f24646" stroke-width="1.05" stroke-dasharray="3.4 3"/>
<path d="M457.5,109.8 H469.45" fill="none" stroke="#f24646" stroke-width="1.05" stroke-dasharray="3.4 3"/>
<path d="M457.5,109.8 V114.1" fill="none" stroke="#f24646" stroke-width="1.05" stroke-dasharray="3.4 3"/>
<path d="M469.45,109.8 V129.7" fill="none" stroke="#f24646" stroke-width="1.05" stroke-dasharray="3.4 3"/>
<path d="M469.45,118.3 H481.4" fill="none" stroke="#f24646" stroke-width="1.05" stroke-dasharray="3.4 3"/>
<path d="M467.95,97.4V99.6M466.95,97.95L468.95,99.05M466.95,99.05L468.95,97.95" stroke="#2a2a2a" stroke-width="0.75" fill="none"/>
<path d="M470.95,97.4V99.6M469.95,97.95L471.95,99.05M469.95,99.05L471.95,97.95" stroke="#2a2a2a" stroke-width="0.75" fill="none"/>
<path d="M461.98,105.4V107.6M460.98,105.95L462.98,107.05M460.98,107.05L462.98,105.95" stroke="#2a2a2a" stroke-width="0.75" fill="none"/>
<path d="M464.98,105.4V107.6M463.98,105.95L465.98,107.05M463.98,107.05L465.98,105.95" stroke="#2a2a2a" stroke-width="0.75" fill="none"/>
<path d="M473.92,113.9V116.1M472.92,114.45L474.92,115.55M472.92,115.55L474.92,114.45" stroke="#2a2a2a" stroke-width="0.75" fill="none"/>
<path d="M476.92,113.9V116.1M475.92,114.45L477.92,115.55M475.92,115.55L477.92,114.45" stroke="#2a2a2a" stroke-width="0.75" fill="none"/>
<line x1="457.5" y1="114.1" x2="457.5" y2="128.7" stroke="#3a3a3a" stroke-width="0.9"/>
<line x1="455.75" y1="114.1" x2="459.25" y2="114.1" stroke="#3a3a3a" stroke-width="0.9"/>
<line x1="455.75" y1="128.7" x2="459.25" y2="128.7" stroke="#3a3a3a" stroke-width="0.9"/>
<rect x="452.75" y="117.6" width="9.5" height="10.2" fill="#08a8f4" stroke="#1a2a44" stroke-width="0.9"/>
<line x1="452.75" y1="121.8" x2="462.25" y2="121.8" stroke="#1a2a44" stroke-width="0.8" stroke-opacity="0.7" stroke-dasharray="2 1.3" stroke-dashoffset="-0.6"/>
<line x1="452.75" y1="124.3" x2="462.25" y2="124.3" stroke="#1a2a44" stroke-width="1.2"/>
<line x1="469.45" y1="129.7" x2="469.45" y2="146.9" stroke="#3a3a3a" stroke-width="0.9"/>
<line x1="467.7" y1="129.7" x2="471.2" y2="129.7" stroke="#3a3a3a" stroke-width="0.9"/>
<line x1="467.7" y1="146.9" x2="471.2" y2="146.9" stroke="#3a3a3a" stroke-width="0.9"/>
<rect x="464.7" y="134.4" width="9.5" height="6.4" fill="#f9d662" stroke="#4a4226" stroke-width="0.9"/>
<line x1="464.7" y1="136.8" x2="474.2" y2="136.8" stroke="#4a4226" stroke-width="0.8" stroke-opacity="0.7" stroke-dasharray="2 1.3" stroke-dashoffset="-0.6"/>
<line x1="464.7" y1="138.8" x2="474.2" y2="138.8" stroke="#4a4226" stroke-width="1.2"/>
<line x1="481.4" y1="134.4" x2="481.4" y2="152.5" stroke="#3a3a3a" stroke-width="0.9"/>
<line x1="479.65" y1="134.4" x2="483.15" y2="134.4" stroke="#3a3a3a" stroke-width="0.9"/>
<line x1="479.65" y1="152.5" x2="483.15" y2="152.5" stroke="#3a3a3a" stroke-width="0.9"/>
<rect x="476.65" y="138.8" width="9.5" height="9.7" fill="#ddf7ae" stroke="#4a5232" stroke-width="0.9"/>
<line x1="476.65" y1="142.8" x2="486.15" y2="142.8" stroke="#4a5232" stroke-width="0.8" stroke-opacity="0.7" stroke-dasharray="2 1.3" stroke-dashoffset="-0.6"/>
<line x1="476.65" y1="145.3" x2="486.15" y2="145.3" stroke="#4a5232" stroke-width="1.2"/>
<line x1="505" y1="221" x2="505" y2="219.6" stroke="#000" stroke-width="1"/>
<text x="505.4" y="218.9" font-size="7.1" text-anchor="middle">HL</text>
<line x1="516.95" y1="221" x2="516.95" y2="219.6" stroke="#000" stroke-width="1"/>
<text x="517.35" y="218.9" font-size="7.1" text-anchor="middle">ML</text>
<line x1="528.9" y1="221" x2="528.9" y2="219.6" stroke="#000" stroke-width="1"/>
<text x="529.3" y="218.9" font-size="7.1" text-anchor="middle">LL</text>
<text x="516.95" y="231.8" font-size="8.2" text-anchor="middle">28</text>
<path d="M505,136.6 H528.9" fill="none" stroke="#f24646" stroke-width="1.05" stroke-dasharray="3.4 3"/>
<path d="M505,136.6 V145" fill="none" stroke="#f24646" stroke-width="1.05" stroke-dasharray="3.4 3"/>
<path d="M528.9,136.6 V165.7" fill="none" stroke="#f24646" stroke-width="1.05" stroke-dasharray="3.4 3"/>
<path d="M505,145 H516.95" fill="none" stroke="#f24646" stroke-width="1.05" stroke-dasharray="3.4 3"/>
<path d="M505,145 V148.2" fill="none" stroke="#f24646" stroke-width="1.05" stroke-dasharray="3.4 3"/>
<path d="M516.95,145 V162.8" fill="none" stroke="#f24646" stroke-width="1.05" stroke-dasharray="3.4 3"/>
<path d="M516.95,151.5 H528.9" fill="none" stroke="#f24646" stroke-width="1.05" stroke-dasharray="3.4 3"/>
<path d="M515.45,132.2V134.4M514.45,132.75L516.45,133.85M514.45,133.85L516.45,132.75" stroke="#2a2a2a" stroke-width="0.75" fill="none"/>
<path d="M518.45,132.2V134.4M517.45,132.75L519.45,133.85M517.45,133.85L519.45,132.75" stroke="#2a2a2a" stroke-width="0.75" fill="none"/>
<path d="M509.48,140.6V142.8M508.48,141.15L510.48,142.25M508.48,142.25L510.48,141.15" stroke="#2a2a2a" stroke-width="0.75" fill="none"/>
<path d="M512.48,140.6V142.8M511.48,141.15L513.48,142.25M511.48,142.25L513.48,141.15" stroke="#2a2a2a" stroke-width="0.75" fill="none"/>
<path d="M521.42,147.1V149.3M520.42,147.65L522.42,148.75M520.42,148.75L522.42,147.65" stroke="#2a2a2a" stroke-width="0.75" fill="none"/>
<path d="M524.42,147.1V149.3M523.42,147.65L525.42,148.75M523.42,148.75L525.42,147.65" stroke="#2a2a2a" stroke-width="0.75" fill="none"/>
<line x1="505" y1="148.2" x2="505" y2="172.4" stroke="#3a3a3a" stroke-width="0.9"/>
<line x1="503.25" y1="148.2" x2="506.75" y2="148.2" stroke="#3a3a3a" stroke-width="0.9"/>
<line x1="503.25" y1="172.4" x2="506.75" y2="172.4" stroke="#3a3a3a" stroke-width="0.9"/>
<rect x="500.25" y="151.8" width="9.5" height="18.3" fill="#08a8f4" stroke="#1a2a44" stroke-width="0.9"/>
<line x1="500.25" y1="156" x2="509.75" y2="156" stroke="#1a2a44" stroke-width="0.8" stroke-opacity="0.7" stroke-dasharray="2 1.3" stroke-dashoffset="-0.6"/>
<line x1="500.25" y1="159.1" x2="509.75" y2="159.1" stroke="#1a2a44" stroke-width="1.2"/>
<line x1="516.95" y1="162.8" x2="516.95" y2="182.8" stroke="#3a3a3a" stroke-width="0.9"/>
<line x1="515.2" y1="162.8" x2="518.7" y2="162.8" stroke="#3a3a3a" stroke-width="0.9"/>
<line x1="515.2" y1="182.8" x2="518.7" y2="182.8" stroke="#3a3a3a" stroke-width="0.9"/>
<rect x="512.2" y="166.9" width="9.5" height="8.8" fill="#f9d662" stroke="#4a4226" stroke-width="0.9"/>
<line x1="512.2" y1="170.3" x2="521.7" y2="170.3" stroke="#4a4226" stroke-width="0.8" stroke-opacity="0.7" stroke-dasharray="2 1.3" stroke-dashoffset="-0.6"/>
<line x1="512.2" y1="172.5" x2="521.7" y2="172.5" stroke="#4a4226" stroke-width="1.2"/>
<line x1="528.9" y1="165.7" x2="528.9" y2="188.7" stroke="#3a3a3a" stroke-width="0.9"/>
<line x1="527.15" y1="165.7" x2="530.65" y2="165.7" stroke="#3a3a3a" stroke-width="0.9"/>
<line x1="527.15" y1="188.7" x2="530.65" y2="188.7" stroke="#3a3a3a" stroke-width="0.9"/>
<rect x="524.15" y="178.7" width="9.5" height="8.3" fill="#ddf7ae" stroke="#4a5232" stroke-width="0.9"/>
<line x1="524.15" y1="184.2" x2="533.65" y2="184.2" stroke="#4a5232" stroke-width="0.8" stroke-opacity="0.7" stroke-dasharray="2 1.3" stroke-dashoffset="-0.6"/>
<line x1="524.15" y1="181.3" x2="533.65" y2="181.3" stroke="#4a5232" stroke-width="1.2"/>
</svg></body></html>
